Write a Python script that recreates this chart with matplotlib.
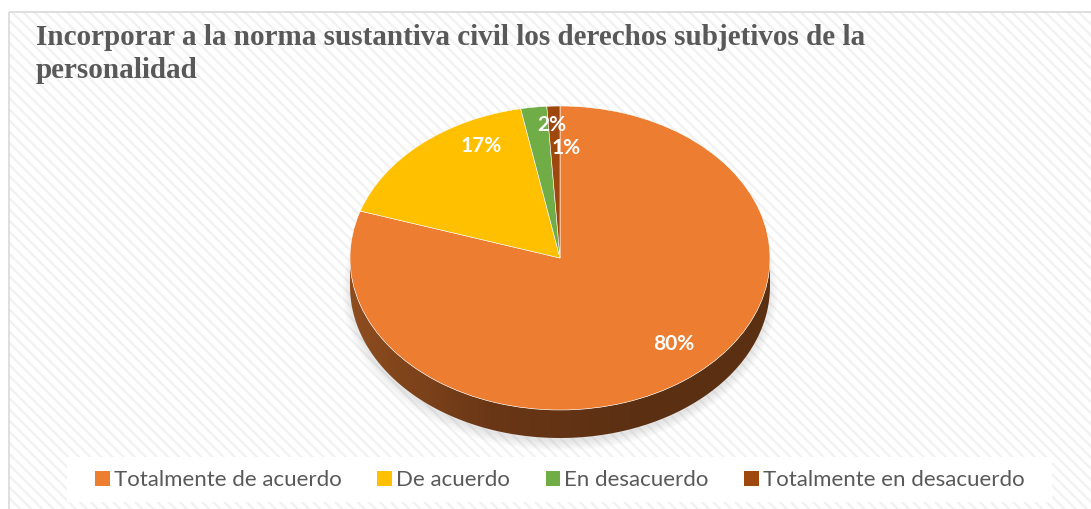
import numpy as np
import matplotlib
matplotlib.use("Agg")
import matplotlib.pyplot as plt
from matplotlib.patches import Rectangle, Patch, Ellipse
from matplotlib.path import Path
from matplotlib.colors import LinearSegmentedColormap

# data
categories = ["Totalmente de acuerdo", "De acuerdo", "En desacuerdo", "Totalmente en desacuerdo"]
values = [80, 17, 2, 1]
colors = ["#ED7D31", "#FFC000", "#70AD47", "#9E480E"]
# label positions (fraction of the pie radius, x then y)
label_pos = [(0.543, -0.566), (-0.376, 0.737), (-0.038, 0.875), (0.029, 0.724)]
title = ("Incorporar a la norma sustantiva civil los derechos subjetivos de la\n"
         "personalidad")

plt.rcParams["hatch.linewidth"] = 1.6

W, H = 1091, 509
fig = plt.figure(figsize=(W / 100, H / 100), dpi=100)

# background axes in pixel coordinates
bg = fig.add_axes([0, 0, 1, 1])
bg.set_xlim(0, W)
bg.set_ylim(H, 0)
bg.axis("off")
bg.add_patch(Rectangle((9, 12), W, H, facecolor="white", edgecolor="#f1f1f1",
                       hatch="\\\\\\", linewidth=0))
bg.add_patch(Rectangle((9, 12), W, H, facecolor="none", edgecolor="#d9d9d9",
                       linewidth=1.2))
bg.add_patch(Rectangle((67, 457), 985, 45, facecolor="white", edgecolor="none"))

# soft shadow under the pie
for i in range(5):
    bg.add_patch(Ellipse((560, 292), 418 + 4 * i, 300 + 4 * i,
                         facecolor="#7f7f7f", edgecolor="none", alpha=0.04))

bg.text(36, 24, title, fontsize=21, fontweight="bold", family="Liberation Serif",
        color="#595959", va="top", ha="left", linespacing=1.3)

# pie axes (stretched to give the tilted look)
depth = 28 / 152
x0, x1 = 350, 770
y_top, y_bot = 106, 438
ax = fig.add_axes([x0 / W, 1 - y_bot / H, (x1 - x0) / W, (y_bot - y_top) / H])
wedges, texts, autotexts = ax.pie(values, colors=colors, startangle=90, counterclock=False,
                                  radius=1, autopct=lambda p: f"{p:.0f}%",
                                  wedgeprops=dict(edgecolor="white", linewidth=0.4),
                                  textprops=dict(color="white", fontsize=15,
                                                 fontweight="bold", family="Lato"))
for w in wedges:
    w.set_zorder(3)
for t, (px, py) in zip(autotexts, label_pos):
    t.set_position((px, py))
    t.set_zorder(5)

# side wall with gradient
th = np.linspace(np.pi, 2 * np.pi, 200)
top = np.column_stack([np.cos(th), np.sin(th)])
bot = np.column_stack([np.cos(th[::-1]), np.sin(th[::-1]) - depth])
wall = Path(np.vstack([top, bot, top[:1]]), closed=True)
cmap = LinearSegmentedColormap.from_list("wall", ["#8E4D1F", "#6A3716", "#5C3013", "#5A2F12"])
grad = np.linspace(0, 1, 256)[None, :]
im = ax.imshow(grad, extent=[-1, 1, -1 - depth, 0], cmap=cmap, aspect="auto", zorder=1)
im.set_clip_path(wall, transform=ax.transData)
ax.set_aspect("auto")
ax.set_xlim(-1, 1)
ax.set_ylim(-1 - depth, 1)
ax.axis("off")

handles = [Patch(facecolor=c, edgecolor="none") for c in colors]
leg = fig.legend(handles, categories, loc="center", bbox_to_anchor=(560 / W, 1 - 480 / H),
                 ncol=4, frameon=False, handlelength=0.65, handleheight=0.65,
                 handletextpad=0.2, columnspacing=1.6,
                 prop=dict(family="Lato", size=16))
for t in leg.get_texts():
    t.set_color("#595959")

fig.savefig("out.png", dpi=100)
